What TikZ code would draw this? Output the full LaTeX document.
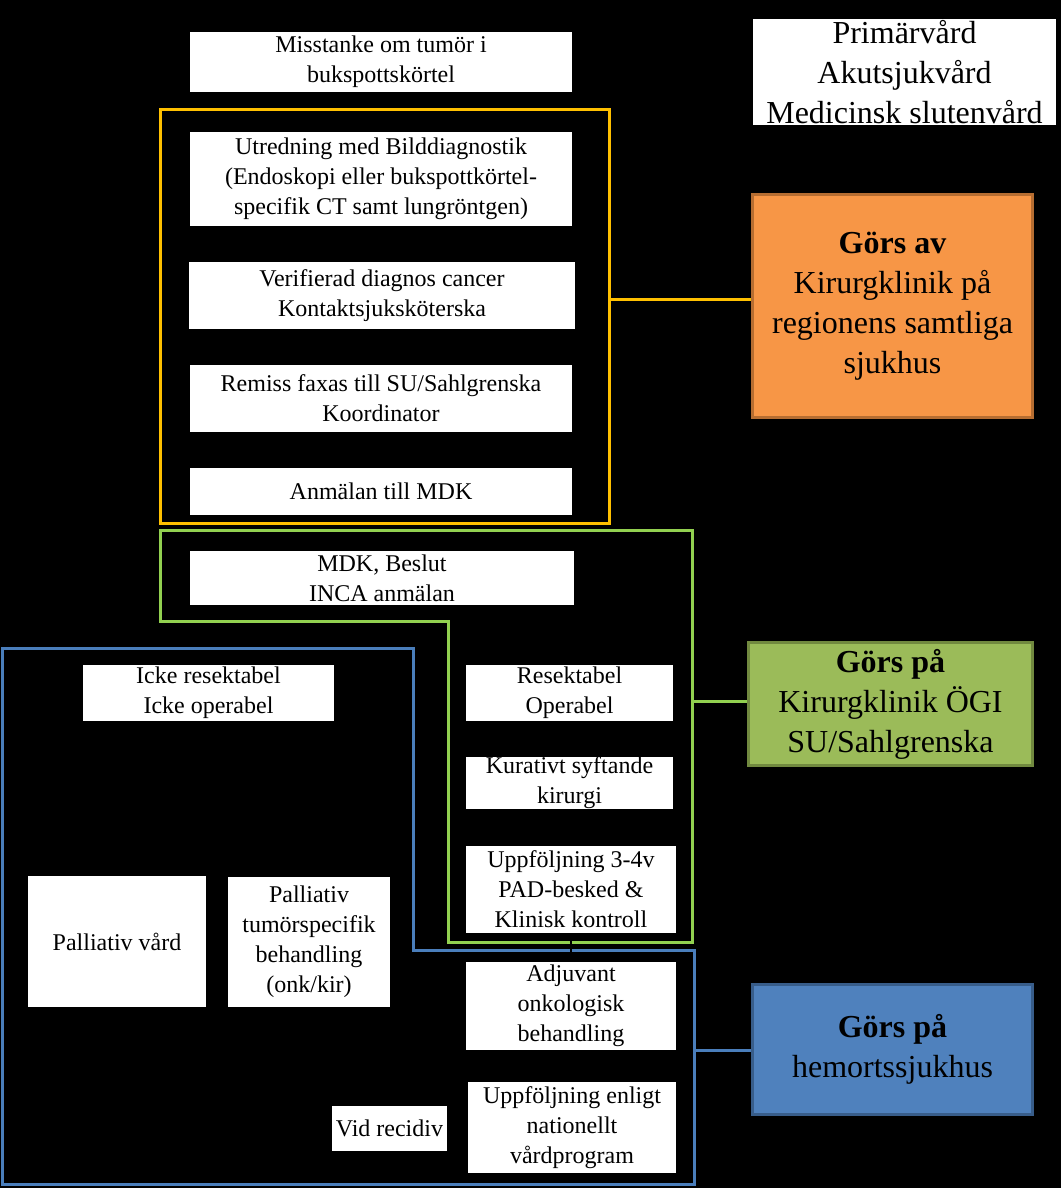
\documentclass[tikz,border=0pt]{standalone}
\usepackage{fontspec}
\setmainfont{Liberation Serif}
\usetikzlibrary{calc}
\definecolor{yel}{HTML}{FFC000}
\definecolor{grl}{HTML}{92D050}
\definecolor{bll}{HTML}{4A7EBB}
\definecolor{orf}{HTML}{F79646}
\definecolor{ord}{HTML}{B66D31}
\definecolor{grf}{HTML}{9BBB59}
\definecolor{grd}{HTML}{71893F}
\definecolor{blf}{HTML}{4F81BD}
\definecolor{bld}{HTML}{385D8A}
\tikzset{
  wbox/.style={fill=white, inner sep=0pt, align=center, text=black,
    font=\fontsize{24}{30}\selectfont},
  bigbox/.style={inner sep=0pt, align=center, text=black, line width=3pt,
    font=\fontsize{32}{40}\selectfont},
  frame/.style={line width=3pt, draw, inner sep=0pt},
  conn/.style={line width=3pt}
}
\begin{document}
\begin{tikzpicture}[x=1pt,y=-1pt]
\useasboundingbox (0,0) rectangle (1061,1188);
\fill[black] (0,0) rectangle (1061,1188);

% top right
\node[wbox, minimum width=303pt, minimum height=106pt, font=\fontsize{32}{40}\selectfont] (tr) at (904.5,72) {Primärvård\\Akutsjukvård\\Medicinsk slutenvård};

% yellow frame
\node[frame, draw=yel, minimum width=449pt, minimum height=413pt] (yf) at (384.5,316.5) {};
% green frame
\draw[conn, draw=grl] (160,530) -- (692,530) -- (692,942) -- (448,942) -- (448,621) -- (160,621) -- cycle;
\coordinate (gfr) at (692,701);
% blue frame
\draw[conn, draw=bll] (2,648) -- (413,648) -- (413,950) -- (694,950) -- (694,1184) -- (2,1184) -- cycle;
\coordinate (bfr) at (694,1050);

% white boxes
\node[wbox, minimum width=382pt, minimum height=60pt] (n1) at (381,62) {Misstanke om tumör i\\bukspottskörtel};
\node[wbox, minimum width=382pt, minimum height=94pt] (n2) at (381,179) {Utredning med Bilddiagnostik\\(Endoskopi eller bukspottkörtel-\\specifik CT samt lungröntgen)};
\node[wbox, minimum width=386pt, minimum height=67pt] (n3) at (382,295.5) {Verifierad diagnos cancer\\Kontaktsjuksköterska};
\node[wbox, minimum width=382pt, minimum height=67pt] (n4) at (381,398.5) {Remiss faxas till SU/Sahlgrenska\\Koordinator};
\node[wbox, minimum width=382pt, minimum height=47pt] (n5) at (381,491.5) {Anmälan till MDK};
\node[wbox, minimum width=384pt, minimum height=54pt] (n6) at (382,578) {MDK, Beslut\\INCA anmälan};
\node[wbox, minimum width=251pt, minimum height=56pt] (n7) at (208.5,693) {Icke resektabel\\Icke operabel};
\node[wbox, minimum width=207pt, minimum height=56pt] (n8) at (569.5,693) {Resektabel\\Operabel};
\node[wbox, minimum width=207pt, minimum height=52pt] (n9) at (569.5,783) {Kurativt syftande\\kirurgi};
\node[wbox, minimum width=210pt, minimum height=87pt] (n10) at (571,889.5) {Uppföljning 3-4v\\PAD-besked \&\\Klinisk kontroll};
\node[wbox, minimum width=178pt, minimum height=131pt] (n11) at (117,941.5) {Palliativ vård};
\node[wbox, minimum width=162pt, minimum height=130pt] (n12) at (309,942) {Palliativ\\tumörspecifik\\behandling\\(onk/kir)};
\node[wbox, minimum width=210pt, minimum height=88pt] (n13) at (571,1006) {Adjuvant\\onkologisk\\behandling};
\node[wbox, minimum width=115pt, minimum height=45pt] (n14) at (389.5,1128.5) {Vid recidiv};
\node[wbox, minimum width=208pt, minimum height=91pt] (n15) at (572,1127.5) {Uppföljning enligt\\nationellt\\vårdprogram};

% coloured boxes
\node[bigbox, fill=orf, draw=ord, minimum width=280pt, minimum height=223pt] (ob) at (892.5,306) {\textbf{Görs av}\\Kirurgklinik på\\regionens samtliga\\sjukhus};
\node[bigbox, fill=grf, draw=grd, minimum width=284pt, minimum height=123pt] (gb) at (890.5,704) {\textbf{Görs på}\\Kirurgklinik ÖGI\\SU/Sahlgrenska};
\node[bigbox, fill=blf, draw=bld, minimum width=280pt, minimum height=130pt] (bb) at (892.5,1049.5) {\textbf{Görs på}\\hemortssjukhus};

% connectors
\draw[conn, draw=yel] (yf.east |- 0,299) -- (ob.west |- 0,299);
\draw[conn, draw=grl] (gfr) -- (gb.west |- gfr);
\draw[conn, draw=bll] (bfr) -- (bb.west |- bfr);
\draw[black, line width=1.5pt, -stealth] (n10.south) -- (n13.north);
\end{tikzpicture}
\end{document}
